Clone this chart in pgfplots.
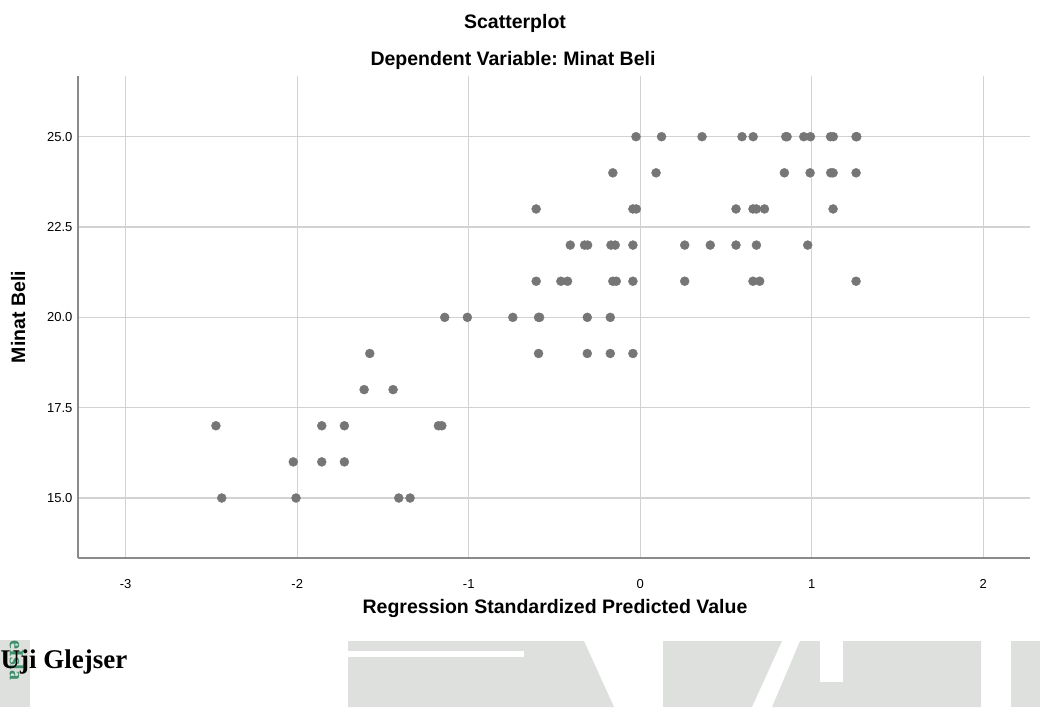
\documentclass[border=0pt]{standalone}
\usepackage{pgfplots}
\pgfplotsset{compat=1.18}
\usepackage{fontspec}
\setmainfont{Liberation Sans}
\newfontfamily\timesfont{Liberation Serif}
\definecolor{dotgray}{HTML}{767676}
\definecolor{gridgray}{HTML}{D2D2D2}
\definecolor{axgray}{HTML}{8A8A8A}
\definecolor{wmgray}{HTML}{DDE0DC}
\definecolor{wmgreen}{HTML}{3F8F6B}
\frenchspacing
\begin{document}
\begin{tikzpicture}
\useasboundingbox (0pt,0pt) rectangle (1040pt,707pt);
% watermark shapes
\fill[wmgray] (348pt,66pt) -- (584pt,66pt) -- (614pt,0pt) -- (348pt,0pt) -- cycle;
\fill[white] (348pt,56pt) rectangle (524pt,50pt);
\fill[wmgray] (663pt,66pt) -- (782pt,66pt) -- (752pt,0pt) -- (663pt,0pt) -- cycle;
\fill[wmgray] (800pt,66pt) -- (981pt,66pt) -- (981pt,0pt) -- (772pt,0pt) -- cycle;
\fill[white] (820pt,66pt) rectangle (843pt,25pt);
\fill[wmgray] (1011pt,66pt) rectangle (1040pt,0pt);
\fill[wmgray] (0pt,67pt) rectangle (30pt,0pt);
\node[rotate=-90,anchor=base west,text=wmgreen,font=\timesfont\bfseries\fontsize{20}{22}\selectfont] at (10pt,70pt) {eIsla};
\node[anchor=base west,font=\timesfont\bfseries\fontsize{27}{29}\selectfont,inner sep=0pt] at (0.5pt,39pt) {Uji Glejser};
% titles
\node[anchor=base,font=\bfseries\fontsize{19.5}{22}\selectfont,inner sep=0pt] at (515pt,678.7pt) {Scatterplot};
\node[anchor=base,font=\bfseries\fontsize{19.5}{22}\selectfont,inner sep=0pt] at (513pt,641pt) {Dependent Variable: Minat Beli};
\node[anchor=base,font=\bfseries\fontsize{19.5}{22}\selectfont,inner sep=0pt] at (555pt,94pt) {Regression Standardized Predicted Value};
\node[anchor=base,rotate=90,font=\bfseries\fontsize{19.5}{22}\selectfont,inner sep=0pt] at (25pt,390pt) {Minat Beli};
\begin{axis}[
  at={(78pt,149pt)}, anchor=south west,
  scale only axis, width=952pt, height=482pt,
  xmin=-3.278, xmax=2.272, ymin=13.34, ymax=26.68,
  xtick={-3,-2,-1,0,1,2},
  ytick={15,17.5,20,22.5,25},
  yticklabel style={/pgf/number format/fixed,/pgf/number format/fixed zerofill,/pgf/number format/precision=1,xshift=-2pt},
  xticklabel style={yshift=-18pt},
  /pgf/number format/assume math mode=true,
  tick label style={font=\fontsize{13}{15}\selectfont},
  major tick length=0pt,
  grid=major,
  major grid style={gridgray,line width=1.2pt},
  axis lines*=left,
  axis line style={axgray,line width=1.4pt},
  clip=false,
]
\addplot[only marks, mark=*, mark size=4.5pt, mark options={fill=dotgray,draw=dotgray,line width=0.4pt}] coordinates {
(-0.025,25) (0.124,25) (0.36,25) (0.593,25) (0.658,25) (0.848,25) (0.856,25) (0.953,25) (0.992,25) (1.109,25) (1.125,25) (1.258,25) (1.262,25)
(-0.16,24) (0.092,24) (0.84,24) (0.99,24) (1.11,24) (1.124,24) (1.258,24)
(-0.607,23) (-0.043,23) (-0.023,23) (0.558,23) (0.657,23) (0.677,23) (0.724,23) (1.124,23)
(-0.408,22) (-0.325,22) (-0.307,22) (-0.171,22) (-0.146,22) (-0.043,22) (0.259,22) (0.408,22) (0.558,22) (0.677,22) (0.976,22)
(-0.607,21) (-0.463,21) (-0.424,21) (-0.16,21) (-0.14,21) (-0.043,21) (0.259,21) (0.657,21) (0.696,21) (1.258,21)
(-1.14,20) (-1.008,20) (-0.743,20) (-0.593,20) (-0.587,20) (-0.309,20) (-0.175,20)
(-1.577,19) (-0.593,19) (-0.309,19) (-0.175,19) (-0.043,19)
(-1.61,18) (-1.441,18)
(-2.474,17) (-1.857,17) (-1.725,17) (-1.177,17) (-1.157,17)
(-2.023,16) (-1.857,16) (-1.725,16)
(-2.44,15) (-2.007,15) (-1.408,15) (-1.342,15)
};
\end{axis}
\end{tikzpicture}
\end{document}
